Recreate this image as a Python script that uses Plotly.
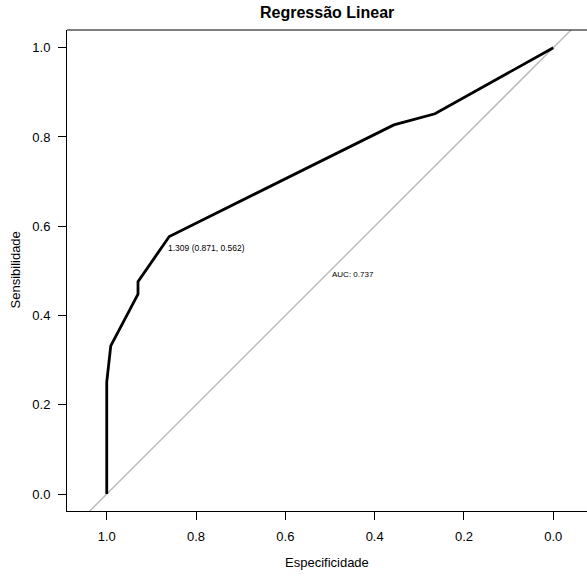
import plotly.graph_objects as go

# ROC curve data (specificity, sensitivity)
especificidade = [1.0, 1.0, 0.991, 0.930, 0.930, 0.871, 0.860, 0.357, 0.265, 0.0]
sensibilidade = [0.0, 0.251, 0.332, 0.448, 0.476, 0.562, 0.577, 0.827, 0.852, 1.0]

# Reference diagonal endpoints (specificity)
diag_spec = [1.2, -0.2]
diag_sens = [1 - v for v in diag_spec]

best_threshold = 1.309
best_spec = 0.871
best_sens = 0.562
auc = 0.737

tick_vals = [1.0, 0.8, 0.6, 0.4, 0.2, 0.0]
tick_text = ["1.0", "0.8", "0.6", "0.4", "0.2", "0.0"]

FONT = "Liberation Sans, Arial, Helvetica, sans-serif"

fig = go.Figure()
fig.add_trace(go.Scatter(x=diag_spec, y=diag_sens, mode="lines",
                         line=dict(color="#b4b4b4", width=1.3), hoverinfo="skip",
                         showlegend=False))
fig.add_trace(go.Scatter(x=especificidade, y=sensibilidade, mode="lines",
                         line=dict(color="black", width=2.8), showlegend=False))

fig.add_annotation(x=best_spec, y=best_sens, xref="x", yref="y",
                   text=f"{best_threshold:.3f} ({best_spec:.3f}, {best_sens:.3f})",
                   showarrow=False, xanchor="left", yanchor="top",
                   xshift=2, yshift=2, font=dict(size=8.5, color="#000000", family=FONT))
fig.add_annotation(x=0.5, y=0.5, xref="x", yref="y",
                   text=f"AUC: {auc:.3f}", showarrow=False,
                   xanchor="left", yanchor="top", yshift=3,
                   font=dict(size=8, color="#000000", family=FONT))

# axis titles
fig.add_annotation(x=0.5, y=0, xref="paper", yref="paper", text="Especificidade",
                   showarrow=False, xanchor="center", yanchor="middle", yshift=-51,
                   font=dict(size=13, color="black", family=FONT))
fig.add_annotation(x=0, y=0.5, xref="paper", yref="paper", text="Sensibilidade",
                   showarrow=False, xanchor="center", yanchor="middle", xshift=-52,
                   textangle=-90, font=dict(size=13, color="black", family=FONT))
# title
fig.add_annotation(x=0.5, y=1, xref="paper", yref="paper", text="<b>Regressão Linear</b>",
                   showarrow=False, xanchor="center", yanchor="middle", yshift=18,
                   font=dict(size=16, color="black", family=FONT))

# top border line
fig.add_shape(type="line", xref="paper", yref="paper", x0=0, x1=1, y0=1, y1=1,
              line=dict(color="black", width=1))

fig.update_xaxes(range=[1.089, -0.0755], tickvals=tick_vals, ticktext=tick_text,
                 ticks="outside", ticklen=8, tickcolor="black", tickwidth=1,
                 showline=True, linecolor="black", linewidth=1, showgrid=False,
                 zeroline=False, ticklabelstandoff=5,
                 tickfont=dict(size=13, color="black", family=FONT))
fig.update_yaxes(range=[-0.038, 1.0397], tickvals=tick_vals, ticktext=tick_text,
                 ticks="outside", ticklen=8, tickcolor="black", tickwidth=1,
                 showline=True, linecolor="black", linewidth=1, showgrid=False,
                 zeroline=False, ticklabelstandoff=5,
                 tickfont=dict(size=13, color="black", family=FONT))

fig.update_layout(width=587, height=577, margin=dict(l=67, r=0, t=30, b=66),
                  plot_bgcolor="white", paper_bgcolor="white",
                  font=dict(family=FONT, color="black"))

fig.write_html("out.html")
